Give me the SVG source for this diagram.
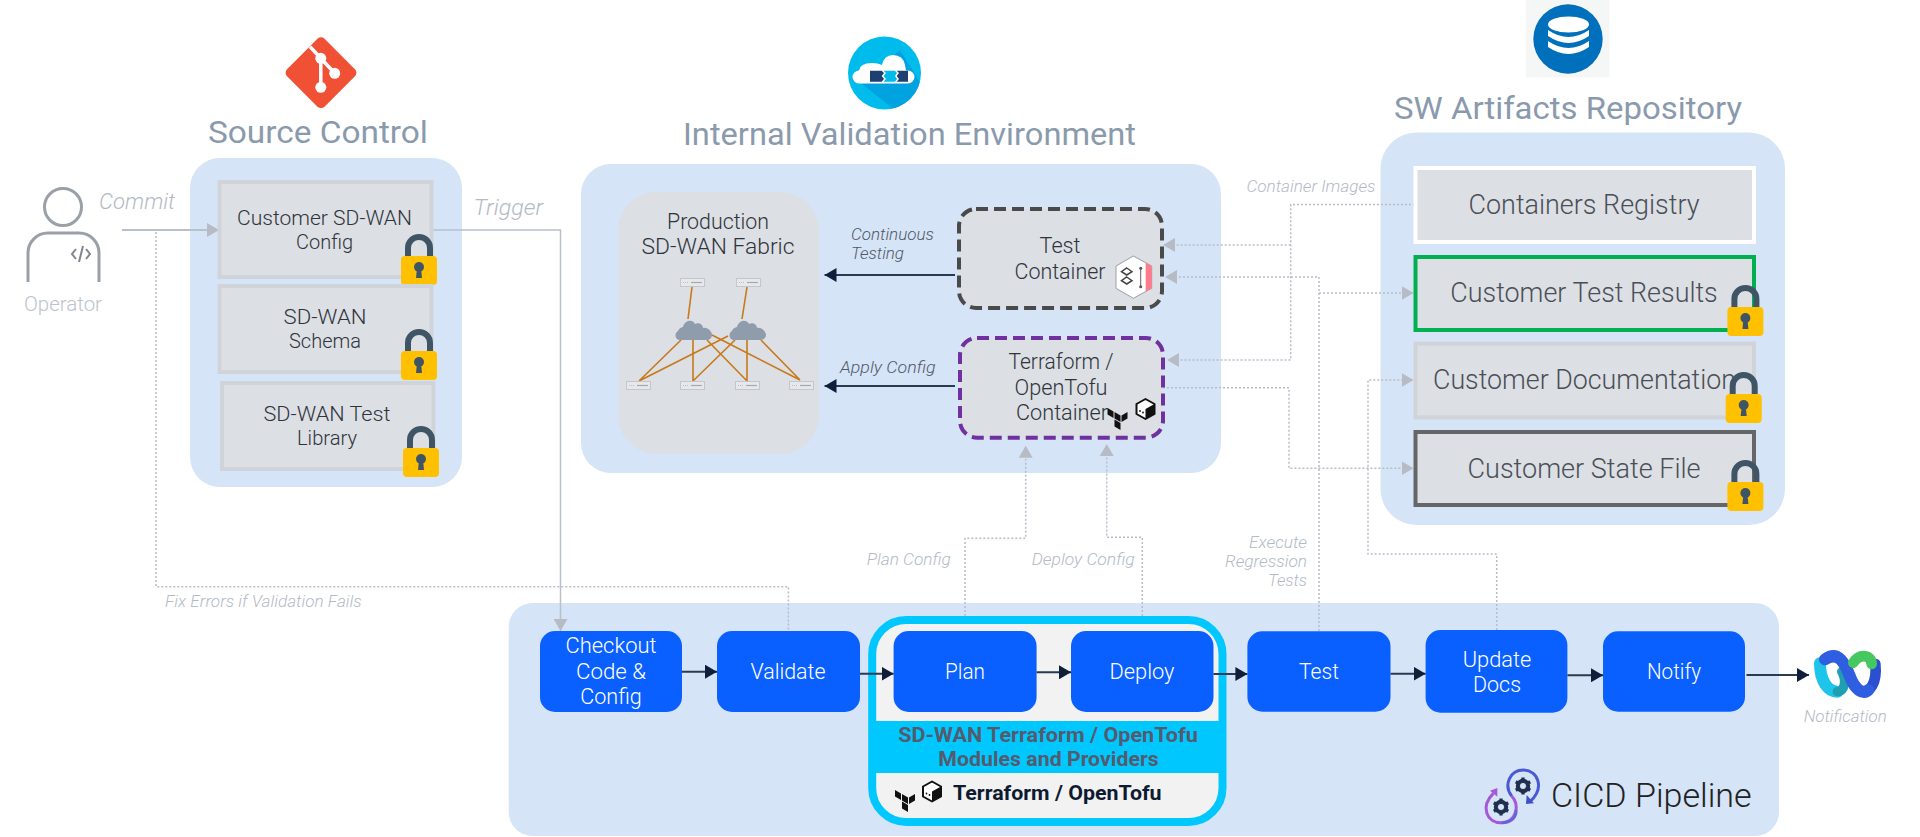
<svg xmlns="http://www.w3.org/2000/svg" width="1920" height="837" viewBox="0 0 1920 837">
<style>
text{font-family:Roboto,"Liberation Sans",sans-serif;font-weight:300}
.m{text-anchor:middle}
.e{text-anchor:end}
.title{font-size:31px;fill:#8a9aad;font-weight:400}
.panel{fill:#d6e4f7}
.box{fill:#dcdfe4;stroke:#d0d3d8;stroke-width:4}
.t{font-size:21px;fill:#2f343b}
.tb{font-size:27px;fill:#4a4f57}
.lbl{font-size:16px;fill:#b3bac5;font-style:italic}
.lbd{font-size:17px;fill:#4f5968;font-style:italic}
.step{fill:#0a60ff}
.st{font-size:22px;fill:#fff}
.dot{fill:none;stroke:#b7bdc7;stroke-width:1.5;stroke-dasharray:2 2}
.sol{fill:none;stroke:#b8c0cc;stroke-width:2}
.dk{fill:none;stroke:#2a3a50;stroke-width:2}
.or{stroke:#c8791a;stroke-width:1.6;fill:none}
</style>
<defs>
<marker id="ag" markerUnits="userSpaceOnUse" markerWidth="12" markerHeight="14" refX="12" refY="7" orient="auto"><path d="M0 0L12 7L0 14Z" fill="#b7bcc4"/></marker>
<marker id="ad" markerUnits="userSpaceOnUse" markerWidth="12" markerHeight="14" refX="12" refY="7" orient="auto"><path d="M0 0L12 7L0 14Z" fill="#0f1f3a"/></marker>
<symbol id="lock" width="36" height="51" viewBox="0 0 36 51" overflow="visible">
<path d="M7 25V14A11 11 0 0 1 29 14V25" fill="none" stroke="#3f5566" stroke-width="6"/>
<rect y="22" width="36" height="29" rx="4" fill="#ffc000"/>
<circle cx="18" cy="33" r="5" fill="#3f5566"/>
<path d="M16 34H20L21 44H15Z" fill="#3f5566"/>
</symbol>
<symbol id="sw" width="25" height="9" viewBox="0 0 25 9" overflow="visible">
<rect x=".5" y=".5" width="24" height="8" fill="#e6e8ec" stroke="#c3c7cd"/>
<path d="M11 4.500H22" stroke="#a5a9b0" stroke-width="1.200"/>
<path d="M3 4.500H9" stroke="#b8bcc3" stroke-dasharray="1 1"/>
</symbol>
<symbol id="cloud" width="38" height="21" viewBox="0 0 38 21" overflow="visible">
<path d="M6 21C1 21 0 14 4 12C5 9 8 8 9 8C10 2 18 -1 21 5C24 3 29 5 29 9C34 8 38 13 38 16C38 19 35 21 33 21Z" fill="#8f9cac"/>
</symbol>
<symbol id="tf" width="20" height="22" viewBox="0 0 20 22" overflow="visible">
<path d="M0 0L6 3.500V10L0 6.500ZM7 4L13 7.500V14L7 10.500ZM14 7.500L20 4V10.500L14 14ZM7 11.500L13 15V22L7 18.500Z" fill="#111"/>
</symbol>
<symbol id="cube" width="20" height="22" viewBox="0 0 20 22" overflow="visible">
<path d="M10 1L19 6V16L10 21L1 16V6Z" fill="#fff" stroke="#111" stroke-width="2" stroke-linejoin="round"/>
<path d="M10 11L19 6V16L10 21Z" fill="#111"/>
<circle cx="4.500" cy="13" r=".9" fill="#111"/><circle cx="7.500" cy="14.500" r=".9" fill="#111"/>
</symbol>
<symbol id="gear" width="18" height="18" viewBox="-15 -15 30 30" overflow="visible">
<circle r="9" fill="none" stroke="#1f2f4d" stroke-width="6"/>
<path d="M0 -14V14M-12 -7L12 7M-12 7L12 -7" stroke="#1f2f4d" stroke-width="5.500"/>
<circle r="5" fill="#d6e4f7"/>
</symbol>
<clipPath id="lc"><circle cx="884.500" cy="73" r="36.500"/></clipPath>
</defs>
<rect width="1920" height="837" fill="#fff"/>

<g id="panel-source"><rect class="panel" x="190" y="158" width="272" height="329" rx="30"/></g>
<g id="panel-validation"><rect class="panel" x="581" y="164" width="640" height="309" rx="30"/></g>
<g id="panel-artifacts"><rect class="panel" x="1380.500" y="132.600" width="404.500" height="392.400" rx="36"/></g>
<g id="panel-cicd"><rect class="panel" x="508.700" y="603" width="1270.300" height="233" rx="24"/></g>

<g id="connectors">
<path class="sol" d="M122 230H219" marker-end="url(#ag)"/>
<path class="sol" style="stroke-width:1.500" d="M432 230H560.500V631" marker-end="url(#ag)"/>
<path class="dot" d="M156 232V586.700H788.400V631"/>
<path class="dk" d="M955 275H824.500" marker-end="url(#ad)"/>
<path class="dk" d="M955 386H824.500" marker-end="url(#ad)"/>
<path class="dot" d="M1415 204.500H1290.700V360H1167" marker-end="url(#ag)"/>
<path class="dot" d="M1290.700 245H1163" marker-end="url(#ag)"/>
<path class="dot" d="M1319 631V277H1165" marker-end="url(#ag)"/>
<path class="dot" d="M1319 293H1413.500" marker-end="url(#ag)"/>
<path class="dot" d="M1163 387.700H1289V468.300H1413.500" marker-end="url(#ag)"/>
<path class="dot" d="M1496.700 630V554H1368V380H1413.500" marker-end="url(#ag)"/>
<path class="dot" d="M965 616V538.300H1025.700V445.700" marker-end="url(#ag)"/>
<path class="dot" d="M1142.300 616V537.300H1106.700V444" marker-end="url(#ag)"/>
</g>

<g id="connector-labels">
<text class="lbl" style="font-size:22px" x="99" y="209" textLength="76" lengthAdjust="spacingAndGlyphs">Commit</text>
<text class="lbl" style="font-size:22px" x="473.500" y="215" textLength="69.500" lengthAdjust="spacingAndGlyphs">Trigger</text>
<text class="lbd" x="851" y="240" textLength="83" lengthAdjust="spacingAndGlyphs">Continuous</text>
<text class="lbd" x="851" y="259" textLength="53" lengthAdjust="spacingAndGlyphs">Testing</text>
<text class="lbd" x="840" y="373" textLength="95.500" lengthAdjust="spacingAndGlyphs">Apply Config</text>
<text class="lbl" x="1246.500" y="192" textLength="129" lengthAdjust="spacingAndGlyphs">Container Images</text>
<text class="lbl" x="165" y="606.700" textLength="196.700" lengthAdjust="spacingAndGlyphs">Fix Errors if Validation Fails</text>
<text class="lbl" x="866.700" y="565" textLength="84" lengthAdjust="spacingAndGlyphs">Plan Config</text>
<text class="lbl" x="1031.700" y="565" textLength="103" lengthAdjust="spacingAndGlyphs">Deploy Config</text>
<text class="lbl e" x="1307" y="547.700" textLength="58" lengthAdjust="spacingAndGlyphs">Execute</text>
<text class="lbl e" x="1307" y="566.700" textLength="82" lengthAdjust="spacingAndGlyphs">Regression</text>
<text class="lbl e" x="1307" y="585.700" textLength="39" lengthAdjust="spacingAndGlyphs">Tests</text>
<text class="lbl" x="1803.700" y="722.300" textLength="83" lengthAdjust="spacingAndGlyphs">Notification</text>
</g>

<g id="operator">
<circle cx="63" cy="207" r="18.500" fill="none" stroke="#9aa0a8" stroke-width="3"/>
<path d="M28 282V253A20 20 0 0 1 48 233H79A20 20 0 0 1 99 253V282" fill="none" stroke="#9aa0a8" stroke-width="3"/>
<path d="M76 249L72 254L76 259M86 249L90 254L86 259M83 246L79 262" fill="none" stroke="#7e858e" stroke-width="2"/>
<text class="m" style="font-size:20px;fill:#bcc3cd" x="63" y="311" textLength="78" lengthAdjust="spacingAndGlyphs">Operator</text>
</g>

<g id="source-control">
<text class="title" x="208" y="143" textLength="220" lengthAdjust="spacingAndGlyphs">Source Control</text>
<rect x="-26.500" y="-26.500" width="53" height="53" rx="5" transform="translate(321 72.700) rotate(45)" fill="#f05033"/>
<path d="M310 46.700L320.800 58.300L334.700 73.300M320.800 58.300V87.300" stroke="#fff" stroke-width="3.500" fill="none"/>
<circle cx="320.800" cy="58.300" r="5.500" fill="#fff"/><circle cx="334.700" cy="73.300" r="5.500" fill="#fff"/><circle cx="320.800" cy="87.300" r="5.500" fill="#fff"/>
</g>

<g id="customer-config">
<rect class="box" x="219.500" y="182" width="212" height="95"/>
<text class="t m" x="324.500" y="225" textLength="175" lengthAdjust="spacingAndGlyphs">Customer SD-WAN</text>
<text class="t m" x="324.500" y="249" textLength="57" lengthAdjust="spacingAndGlyphs">Config</text>
<use href="#lock" x="401" y="234"/>
</g>
<g id="schema">
<rect class="box" x="219.500" y="286" width="212" height="86"/>
<text class="t m" x="325" y="324" textLength="83" lengthAdjust="spacingAndGlyphs">SD-WAN</text>
<text class="t m" x="325" y="348" textLength="72" lengthAdjust="spacingAndGlyphs">Schema</text>
<use href="#lock" x="401" y="329"/>
</g>
<g id="test-library">
<rect class="box" x="222" y="383" width="211.500" height="86"/>
<text class="t m" x="327" y="421" textLength="127" lengthAdjust="spacingAndGlyphs">SD-WAN Test</text>
<text class="t m" x="327" y="445" textLength="60" lengthAdjust="spacingAndGlyphs">Library</text>
<use href="#lock" x="403" y="426"/>
</g>

<g id="validation-env">
<text class="title" x="683" y="145" textLength="453" lengthAdjust="spacingAndGlyphs">Internal Validation Environment</text>
<circle cx="884.500" cy="73" r="36.500" fill="#00bcec"/>
<path d="M862 84L894 109.500H921V84L900 50Z" fill="#00a2e0" clip-path="url(#lc)"/>
<path d="M859 83.500A6.500 6.500 0 0 1 859 70.500Q860 63 872 63Q878 63 882 65Q884 55 893 55Q903 55 905 65Q906 70 906 70.500H908A6.500 6.500 0 0 1 908 83.500Z" fill="#fff"/>
<path d="M870 70.700H881.700L884 73L881.700 76L884 79L881.700 81.700H870Z" fill="#1d3f72"/>
<path d="M883.500 70.700H895L897 73L895 76L897 79L895 81.700H883.500L886 79L883.500 76L886 73Z" fill="#00bcec"/>
<path d="M908 70.700H896.700L899 73L896.700 76L899 79L896.700 81.700H908Z" fill="#1d3f72"/>
</g>

<g id="production-fabric">
<rect x="618" y="192" width="201" height="262" rx="38" fill="#dcdfe4"/>
<text class="t m" style="font-size:22px" x="718" y="229" textLength="102" lengthAdjust="spacingAndGlyphs">Production</text>
<text class="t m" style="font-size:22px" x="718" y="254" textLength="153" lengthAdjust="spacingAndGlyphs">SD-WAN Fabric</text>
<path class="or" d="M692 287L688 319M747 287L742 319M681 340L639 381M693 340V381M707 340L747 381M712 335L800 380M728 336L639 381M735 340L693 381M747 340V381M761 340L800 380"/>
<use href="#cloud" x="674" y="319"/><use href="#cloud" x="728" y="319"/>
<use href="#sw" x="680" y="278"/><use href="#sw" x="736" y="278"/>
<use href="#sw" x="626" y="381"/><use href="#sw" x="680" y="381"/><use href="#sw" x="735" y="381"/><use href="#sw" x="789" y="381"/>
</g>

<g id="test-container">
<rect x="959" y="209" width="203" height="99" rx="17" fill="#dcdfe4" stroke="#4a4a4a" stroke-width="4" stroke-dasharray="12 6"/>
<text class="t m" style="font-size:22px" x="1060" y="253" textLength="41" lengthAdjust="spacingAndGlyphs">Test</text>
<text class="t m" style="font-size:22px" x="1060" y="279" textLength="91" lengthAdjust="spacingAndGlyphs">Container</text>
<path d="M1133.300 256L1151.700 266V288.300L1133.300 298.300L1116 288.300V266Z" fill="#fff" stroke="#9aa0a8" stroke-width="1"/>
<path d="M1145.700 262.800L1151.700 266V288.300L1145.700 291.600Z" fill="#ff7a8a"/>
<path d="M1126.700 268L1132 271.700L1126.700 275L1121.500 271.700ZM1126.700 277L1132 280.700L1126.700 284L1121.500 280.700Z" fill="none" stroke="#444" stroke-width="1.500"/>
<path d="M1140.700 268.300V286.700" stroke="#666" stroke-width="1"/>
<circle cx="1140.700" cy="268.300" r="1.500" fill="#555"/><circle cx="1140.700" cy="286.700" r="1.500" fill="#555"/>
</g>

<g id="terraform-container">
<rect x="960" y="338" width="203" height="99.700" rx="17" fill="#dcdfe4" stroke="#7030a0" stroke-width="4" stroke-dasharray="12 6"/>
<text class="t m" style="font-size:22px" x="1061" y="369" textLength="105" lengthAdjust="spacingAndGlyphs">Terraform /</text>
<text class="t m" style="font-size:22px" x="1061" y="394.700" textLength="93" lengthAdjust="spacingAndGlyphs">OpenTofu</text>
<text class="t m" style="font-size:22px" x="1062" y="420" textLength="92" lengthAdjust="spacingAndGlyphs">Container</text>
<use href="#tf" x="1107.500" y="408"/>
<use href="#cube" x="1135.500" y="398"/>
</g>

<g id="artifacts-header">
<rect x="1526" y="0" width="83.500" height="77.500" fill="#f5f7f7"/>
<circle cx="1568" cy="39" r="34.700" fill="#0070bd"/>
<ellipse cx="1568.500" cy="24.500" rx="20.500" ry="8" fill="#fff"/>
<path d="M1548 30Q1568.500 44 1589 30V36Q1568.500 50 1548 36ZM1548 41Q1568.500 55 1589 41V47Q1568.500 61 1548 47Z" fill="#fff"/>
<text class="title" x="1394" y="119" textLength="348" lengthAdjust="spacingAndGlyphs">SW Artifacts Repository</text>
</g>

<g id="containers-registry">
<rect x="1415.500" y="168" width="338.500" height="74" fill="#dcdfe4" stroke="#fff" stroke-width="4"/>
<text class="tb m" x="1584" y="213.500" textLength="231" lengthAdjust="spacingAndGlyphs">Containers Registry</text>
</g>
<g id="test-results">
<rect x="1415.500" y="257" width="338.500" height="73" fill="#dcdfe4" stroke="#00b050" stroke-width="4"/>
<text class="tb m" x="1584" y="302" textLength="267.500" lengthAdjust="spacingAndGlyphs">Customer Test Results</text>
<use href="#lock" x="1727.400" y="285"/>
</g>
<g id="documentation">
<rect class="box" x="1415.500" y="343.600" width="338.500" height="73.800"/>
<text class="tb m" x="1584.500" y="389" textLength="303" lengthAdjust="spacingAndGlyphs">Customer Documentation</text>
<use href="#lock" x="1725.700" y="372"/>
</g>
<g id="state-file">
<rect x="1415.500" y="432" width="338.500" height="73" fill="#dcdfe4" stroke="#666" stroke-width="4"/>
<text class="tb m" x="1584" y="477.600" textLength="233" lengthAdjust="spacingAndGlyphs">Customer State File</text>
<use href="#lock" x="1727.400" y="460"/>
</g>

<g id="tf-group">
<rect x="872.200" y="620" width="350.300" height="202" rx="34" fill="#f2f2f2" stroke="#00c8ff" stroke-width="8"/>
<rect x="876" y="721" width="343" height="52" fill="#00c8ff"/>
<text class="m" style="font-size:21px;font-weight:700;fill:#555b6e" x="1048" y="742.300" textLength="299.500" lengthAdjust="spacingAndGlyphs">SD-WAN Terraform / OpenTofu</text>
<text class="m" style="font-size:21px;font-weight:700;fill:#555b6e" x="1048.500" y="765.700" textLength="220.300" lengthAdjust="spacingAndGlyphs">Modules and Providers</text>
<use href="#tf" x="895" y="790"/>
<use href="#cube" x="922" y="780.500"/>
<text style="font-size:21px;font-weight:700;fill:#0d1a30" x="953" y="800" textLength="208.600" lengthAdjust="spacingAndGlyphs">Terraform / OpenTofu</text>
</g>

<g id="step-checkout"><rect class="step" x="540" y="631" width="142" height="81" rx="15"/>
<text class="st m" x="611" y="653" textLength="91" lengthAdjust="spacingAndGlyphs">Checkout</text>
<text class="st m" x="611" y="679" textLength="70" lengthAdjust="spacingAndGlyphs">Code &amp;</text>
<text class="st m" x="611" y="704" textLength="61.500" lengthAdjust="spacingAndGlyphs">Config</text></g>
<g id="step-validate"><rect class="step" x="717" y="631" width="143" height="81" rx="15"/>
<text class="st m" x="788" y="679" textLength="75" lengthAdjust="spacingAndGlyphs">Validate</text></g>
<g id="step-plan"><rect class="step" x="893.600" y="631" width="143" height="81" rx="15"/>
<text class="st m" x="965" y="679" textLength="40" lengthAdjust="spacingAndGlyphs">Plan</text></g>
<g id="step-deploy"><rect class="step" x="1071" y="631" width="142.500" height="81" rx="15"/>
<text class="st m" x="1142" y="679" textLength="65" lengthAdjust="spacingAndGlyphs">Deploy</text></g>
<g id="step-test"><rect class="step" x="1247.400" y="631.300" width="143.100" height="80.400" rx="15"/>
<text class="st m" x="1319" y="679" textLength="40" lengthAdjust="spacingAndGlyphs">Test</text></g>
<g id="step-docs"><rect class="step" x="1425.600" y="630" width="141.800" height="82.700" rx="15"/>
<text class="st m" x="1497" y="666.700" textLength="68.500" lengthAdjust="spacingAndGlyphs">Update</text>
<text class="st m" x="1497" y="692.300" textLength="48" lengthAdjust="spacingAndGlyphs">Docs</text></g>
<g id="step-notify"><rect class="step" x="1603" y="631.300" width="142" height="80.400" rx="15"/>
<text class="st m" x="1674" y="679" textLength="54" lengthAdjust="spacingAndGlyphs">Notify</text></g>

<g id="connectors-pipeline">
<path class="dk" d="M682 671.700H717" marker-end="url(#ad)"/>
<path class="dk" d="M860 673.700H893.600" marker-end="url(#ad)"/>
<path class="dk" d="M1036.600 672.300H1071" marker-end="url(#ad)"/>
<path class="dk" d="M1213.500 674H1247.400" marker-end="url(#ad)"/>
<path class="dk" d="M1390.500 673.700H1425.600" marker-end="url(#ad)"/>
<path class="dk" d="M1567.400 675.300H1603" marker-end="url(#ad)"/>
<path class="dk" d="M1746.500 675H1809" marker-end="url(#ad)"/>
</g>

<g id="cicd-label">
<g transform="translate(1480 760) scale(.3333)" fill="none" stroke-width="9">
<path d="M95 108C120 135 110 185 65 188C20 190 0 140 40 100" stroke="#a558d8"/>
<path d="M108 150C110 170 95 188 65 188" stroke="#6a63d8"/>
<path d="M95 108C70 75 90 30 130 30C175 30 195 85 150 125" stroke="#4a5bd4"/>
<path d="M52 84L30 92L52 110Z" fill="#a558d8" stroke="none"/>
<path d="M140 105L162 130L138 132Z" fill="#3f4fcc" stroke="none"/>
</g>
<use href="#gear" x="1514" y="777"/>
<use href="#gear" x="1492" y="798"/>
<text style="font-size:33px;fill:#222;font-weight:300" x="1551" y="806.700" textLength="200.700" lengthAdjust="spacingAndGlyphs">CICD Pipeline</text>
</g>

<g id="webex" transform="translate(1800 640) scale(.3333)" fill="none" stroke-linecap="round">
<path d="M60 70C60 125 85 155 112 155" stroke="#1fc4ea" stroke-width="36"/>
<path d="M112 155C135 155 140 120 125 95" stroke="#1f9fb0" stroke-width="28"/>
<path d="M226 72C232 130 210 158 185 155" stroke="#2a4fd0" stroke-width="32"/>
<path d="M75 58C115 30 135 70 150 110C165 150 190 165 205 150" stroke="#2f5fe0" stroke-width="36"/>
<path d="M160 68C180 38 215 45 215 72" stroke="#45c860" stroke-width="32"/>
</g>
</svg>
